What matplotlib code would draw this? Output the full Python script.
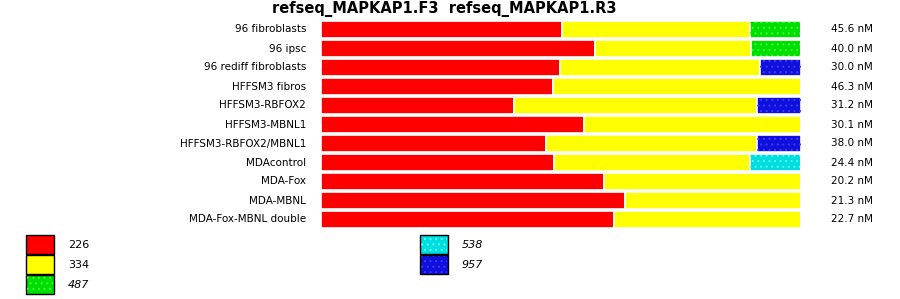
import matplotlib
matplotlib.use("Agg")
import matplotlib.pyplot as plt
from matplotlib.patches import Rectangle

# data (percent of each bar)
samples = ["96 fibroblasts", "96 ipsc", "96 rediff fibroblasts", "HFFSM3 fibros",
           "HFFSM3-RBFOX2", "HFFSM3-MBNL1", "HFFSM3-RBFOX2/MBNL1", "MDAcontrol",
           "MDA-Fox", "MDA-MBNL", "MDA-Fox-MBNL double"]
conc = ["45.6 nM", "40.0 nM", "30.0 nM", "46.3 nM", "31.2 nM", "30.1 nM",
        "38.0 nM", "24.4 nM", "20.2 nM", "21.3 nM", "22.7 nM"]
peaks = ["226", "334", "487", "538", "957"]
p226 = [50.2, 57.0, 49.8, 48.4, 40.2, 54.7, 46.9, 48.5, 58.9, 63.4, 61.1]
p334 = [39.2, 32.5, 41.7, 51.6, 50.7, 45.3, 43.9, 40.9, 41.1, 36.6, 38.9]
p487 = [10.6, 10.5, 0, 0, 0, 0, 0, 0, 0, 0, 0]
p538 = [0, 0, 0, 0, 0, 0, 0, 10.6, 0, 0, 0]
p957 = [0, 0, 8.5, 0, 9.1, 0, 9.2, 0, 0, 0, 0]
series = [p226, p334, p487, p538, p957]

colors = ["#ff0000", "#ffff00", "#00dd00", "#00dddd", "#1010dd"]
dots = [None, None, "#30ff30", "#50ffff", "#3838ff"]
italic = [False, False, True, True, True]

plt.rcParams["hatch.linewidth"] = 0.8

fig = plt.figure(figsize=(9, 2.99), dpi=100)
ax = fig.add_axes([321/900, 1 - 229/299, 480/900, 209/299])

ypos = list(range(len(samples)))
left = [0.0] * len(samples)
for vals, c, d in zip(series, colors, dots):
    ax.barh(ypos, vals, left=left, height=0.9, color=c, edgecolor="white", linewidth=1.2)
    if d:
        nz = [i for i, v in enumerate(vals) if v > 0]
        ax.barh([ypos[i] for i in nz], [vals[i] for i in nz], left=[left[i] for i in nz],
                height=0.8, fill=False, hatch="...", edgecolor=d, linewidth=0)
    left = [l + v for l, v in zip(left, vals)]

ax.set_xlim(0, 100)
ax.set_ylim(len(samples) - 0.5, -0.5)
ax.axis("off")

for i, (s, c) in enumerate(zip(samples, conc)):
    ax.text(-3.1, i, s, ha="right", va="center", fontsize=7.5)
    ax.text(106.2, i, c, ha="left", va="center", fontsize=7.5)

fig.text(444/900, 1 - 9/299, "refseq_MAPKAP1.F3  refseq_MAPKAP1.R3", ha="center",
         va="center", fontsize=10.5, fontweight="bold")

# legend
for k, name in enumerate(peaks):
    col, row = (0, k) if k < 3 else (1, k - 3)
    x0 = 26 if col == 0 else 420
    y0 = 235 + 20 * row
    fig.patches.append(Rectangle((x0/900, 1 - (y0 + 19)/299), 28/900, 19/299,
                                 transform=fig.transFigure, facecolor=colors[k],
                                 edgecolor="black", linewidth=1))
    if dots[k]:
        fig.patches.append(Rectangle(((x0 + 1)/900, 1 - (y0 + 18)/299), 26/900, 17/299,
                                     transform=fig.transFigure, fill=False, hatch="...",
                                     edgecolor=dots[k], linewidth=0))
    fig.text((x0 + 42)/900, 1 - (y0 + 10)/299, name, ha="left", va="center", fontsize=8,
             style="italic" if italic[k] else "normal")

fig.savefig("out.png", dpi=100)
